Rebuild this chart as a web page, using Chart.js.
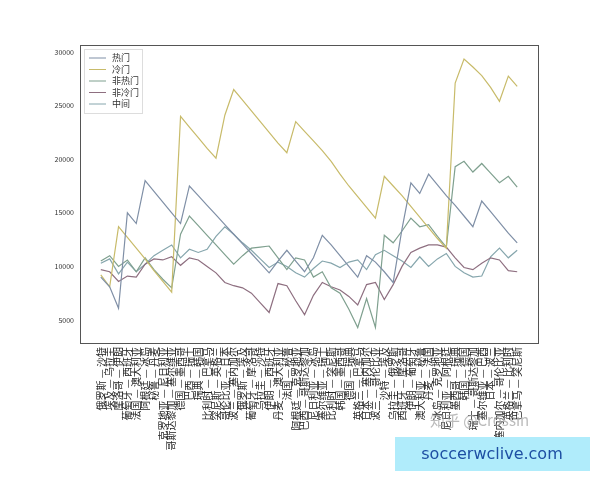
<!DOCTYPE html>
<html><head><meta charset="utf-8">
<script src="https://cdn.jsdelivr.net/npm/chart.js@4"></script>
<style>body{margin:0;background:#fff}#w{position:relative;width:600px;height:480px}</style>
</head><body><div id="w"><canvas id="c" width="600" height="480"></canvas></div>
<script>
const matches = ["俄罗斯 — 沙特","埃及 — 乌拉圭","摩洛哥 — 伊朗","葡萄牙 — 西班牙","法国 — 澳大利亚","阿根廷 — 冰岛","秘鲁 — 丹麦","克罗地亚 — 尼日利亚","哥斯达黎加 — 塞尔维亚","德国 — 墨西哥","巴西 — 瑞士","瑞典 — 韩国","比利时 — 巴拿马","突尼斯 — 英格兰","哥伦比亚 — 日本","波兰 — 塞内加尔","俄罗斯 — 埃及","葡萄牙 — 摩洛哥","乌拉圭 — 沙特","伊朗 — 西班牙","丹麦 — 澳大利亚","法国 — 秘鲁","阿根廷 — 克罗地亚","巴西 — 哥斯达黎加","尼日利亚 — 冰岛","塞尔维亚 — 瑞士","比利时 — 突尼斯","韩国 — 墨西哥","德国 — 瑞典","英格兰 — 巴拿马","日本 — 塞内加尔","波兰 — 哥伦比亚","沙特 — 埃及","乌拉圭 — 俄罗斯","西班牙 — 摩洛哥","伊朗 — 葡萄牙","澳大利亚 — 秘鲁","丹麦 — 法国","冰岛 — 克罗地亚","尼日利亚 — 阿根廷","墨西哥 — 瑞典","韩国 — 德国","瑞士 — 哥斯达黎加","塞尔维亚 — 巴西","日本 — 波兰","塞内加尔 — 哥伦比亚","英格兰 — 比利时","巴拿马 — 突尼斯"];
const hot = [9000,8100,6100,15000,14000,18000,17000,16000,15000,14000,17500,16600,15700,14800,13900,13000,12100,11200,10300,9400,10500,11500,10500,9500,10800,12900,12000,11000,10000,9000,11000,10400,9500,8500,13500,17800,16800,18600,17600,16600,15700,14700,13700,16100,15100,14100,13100,12200];
const cold = [9200,8100,13700,12700,11700,10700,9600,8600,7600,24000,23000,22000,21000,20100,24100,26500,25500,24500,23500,22500,21500,20600,23500,22600,21700,20800,19800,18600,17500,16500,15500,14500,18400,17500,16600,15600,14600,13600,12600,11700,27100,29350,28600,27800,26700,25400,27750,26800];
const notHot = [10500,11000,10000,10600,9500,10800,9700,8800,8000,13000,14700,13800,12900,12000,11100,10200,11000,11700,11800,11900,10800,9700,10800,10600,9000,9500,8000,7500,6000,4300,7000,4300,12900,12200,13300,14500,13700,13900,12800,11800,19300,19800,18800,19600,18700,17800,18400,17400];
const notCold = [9700,9500,8600,9100,9000,10200,10700,10600,10900,10100,10800,10600,10000,9400,8500,8200,8000,7500,6600,5700,8400,8200,6800,5500,7300,8500,8100,7800,7200,6400,8300,8500,6900,8300,10000,11300,11700,12000,12000,11800,10800,9900,9700,10300,10800,10600,9600,9500];
const middle = [10300,10700,9300,10400,9500,10200,11000,11500,12000,10800,11600,11300,11600,12800,13700,13000,12200,11500,10700,9900,10400,10000,9400,9000,9800,10500,10300,9900,10400,10600,9700,11100,11500,11000,10500,9900,10900,10000,10700,11200,10000,9400,9000,9100,10900,11700,10800,11500];
const names = ["热门","冷门","非热门","非冷门","中间"];
const colors = ["#7f8fa6","#c8bb6a","#7fa08f","#8e6f80","#86a6ad"];
const yTicks = [5000,10000,15000,20000,25000,30000];
const series=[hot,cold,notHot,notCold,middle];
const F="'Noto Sans CJK SC','DejaVu Sans',sans-serif";
const frame={id:'frame',afterDraw(ch){const a=ch.chartArea,x=ch.ctx;x.save();x.strokeStyle='#555';x.lineWidth=1;x.strokeRect(a.left+0.5,a.top+0.5,a.right-a.left,a.bottom-a.top);
 x.fillStyle='#fff';x.strokeStyle='#ddd';x.fillRect(a.left+4,a.top+4,58,64);x.strokeRect(a.left+4.5,a.top+4.5,58,64);
 x.font="9px "+F;x.textBaseline='middle';
 names.forEach((n,i)=>{const yy=a.top+13+i*11.5;x.strokeStyle=colors[i];x.beginPath();x.moveTo(a.left+9,yy);x.lineTo(a.left+26,yy);x.stroke();x.fillStyle='#333';x.fillText(n,a.left+32,yy);});
 x.font="15px "+F;x.fillStyle='rgba(170,170,170,0.8)';x.fillText("知乎 @Crossin",430,420);
 x.fillStyle='#b0ecfb';x.fillRect(395,437,195,34);x.fillStyle='#1d4fa3';x.font="16px 'DejaVu Sans',sans-serif";x.textAlign='center';x.fillText("soccerwclive.com",492,455);
 x.restore();}};
new Chart(document.getElementById('c'),{type:'line',
 data:{datasets:series.map((s,i)=>({label:names[i],data:s.map((v,j)=>({x:j,y:v})),borderColor:colors[i],borderWidth:1.2,pointRadius:0,tension:0,fill:false}))},
 options:{responsive:false,animation:false,layout:{padding:{left:0,right:62,top:45,bottom:0}},
  plugins:{legend:{display:false},tooltip:{enabled:false}},
  scales:{
   x:{type:'linear',min:-2.35,max:49.35,afterBuildTicks(s){s.ticks=matches.map((m,i)=>({value:i}));},afterFit(s){s.height=137;},
      grid:{display:false,drawTicks:true,tickLength:3},border:{color:'#555'},
      ticks:{autoSkip:false,maxRotation:90,minRotation:90,padding:1,font:{size:10,family:F},color:'#222',callback:(v)=>matches[v]}},
   y:{min:2855,max:30650,afterBuildTicks(s){s.ticks=yTicks.map(v=>({value:v}));},afterFit(s){s.width=80;},
      grid:{display:false,tickLength:3},border:{color:'#555'},ticks:{font:{size:7,family:F},color:'#333',padding:3,callback:(v)=>String(v)}}}},
 plugins:[frame]});
</script></body></html>
